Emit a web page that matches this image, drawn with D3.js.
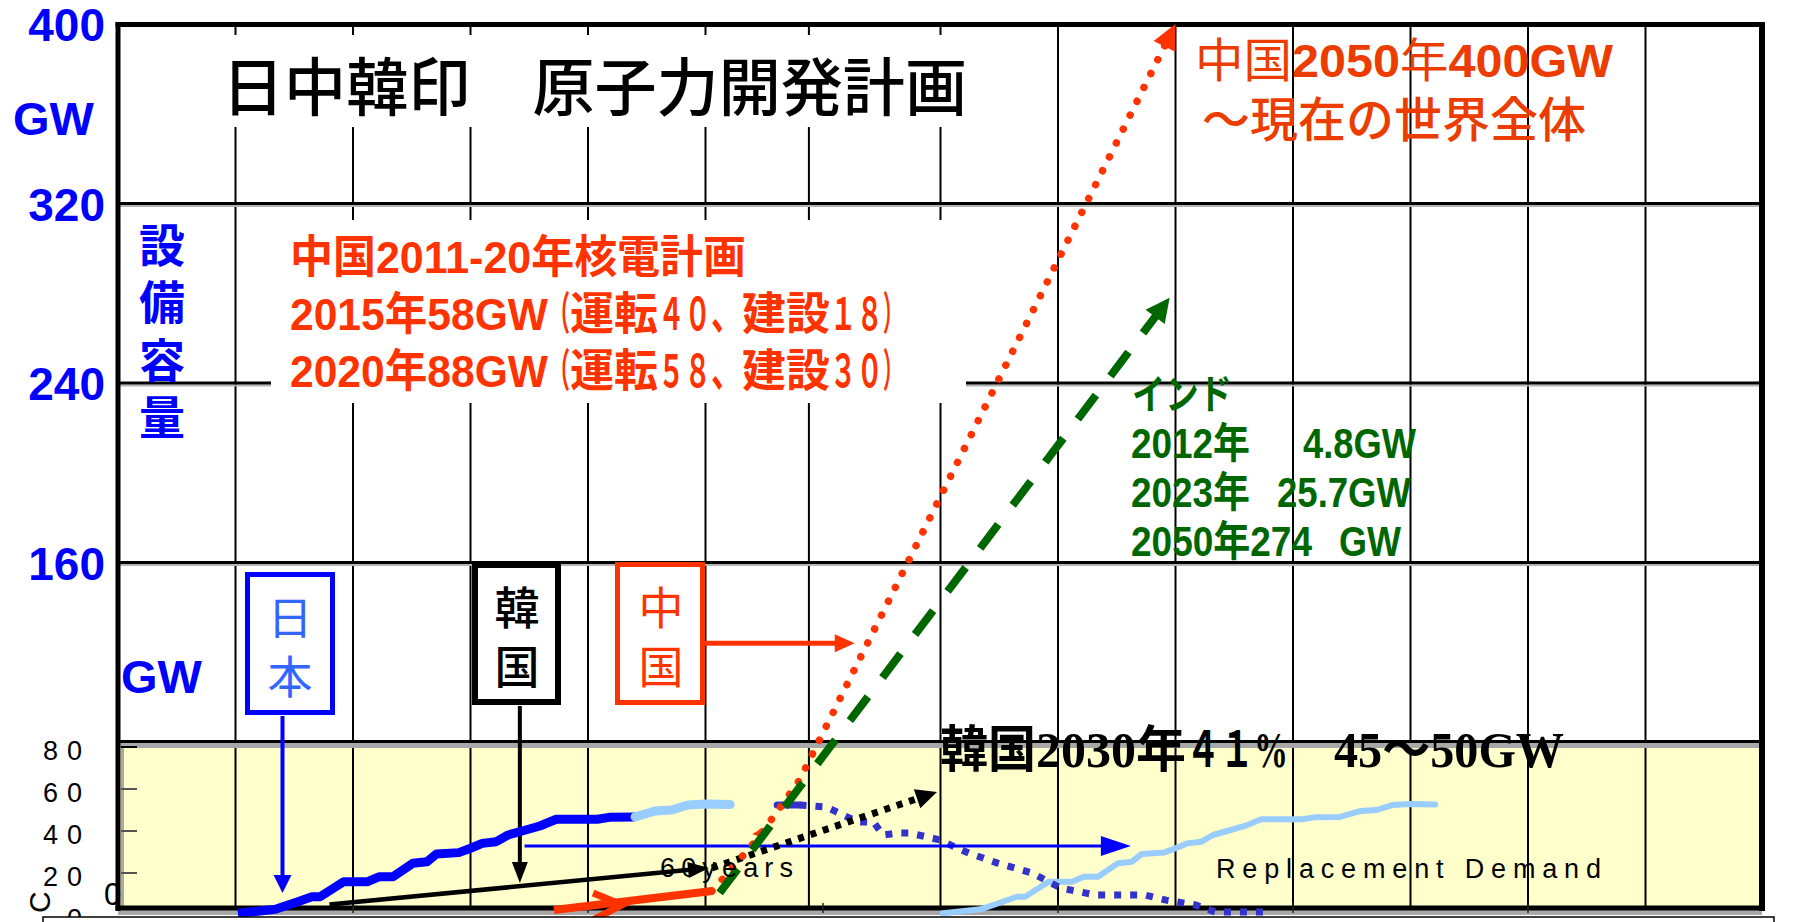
<!DOCTYPE html>
<html><head><meta charset="utf-8">
<script src="https://cdn.jsdelivr.net/npm/d3@7"></script>
<style>body{margin:0;background:#fff;}svg{display:block;}</style>
</head><body>
<svg id="chart" width="1808" height="922"></svg>
<script>
// ---------------- data ----------------
const gridYears = [1970,1980,1990,2000,2010,2018.8,2030,2040,2050,2060,2070,2080,2090];
const bottomTickYears = [1980,2000,2020,2040,2060,2080];
const upperTicks = [400,320,240,160];
const upperGridValues = [320,240,160];
const lowerTicks = [80,60,40,20,0];

// Japan installed capacity (GW)
const japanActual = [[1970.2,0.8],[1973.4,2.7],[1975.3,6.3],[1976.5,8.7],[1977.2,8.7],[1979.2,15.8],[1981.2,15.8],[1982.2,18.2],[1983.4,18.2],[1985.1,24.6],[1986.3,25.4],[1987.1,29.0],[1989.0,29.7],[1990.0,31.8],[1991.0,34.1],[1992.2,34.9],[1993.2,38.1],[1994.4,40.0],[1995.9,42.4],[1997.3,45.6],[2000.8,45.6],[2001.8,46.5],[2004.0,46.7]];
const japanRecent = [[2004.0,46.7],[2005.7,49.5],[2007.1,50.0],[2008.5,52.4],[2010.0,52.9],[2012.1,52.6]];
const japanDecline = [[2016.1,52.4],[2018.0,52.4],[2020.3,51.4],[2021.7,47.6],[2023.0,44.3],[2024.3,44.3],[2025.1,38.1],[2026.3,39.0],[2027.4,39.0],[2028.9,37.1],[2030.0,35.7],[2031.2,32.4],[2032.4,29.5],[2034.8,24.8],[2037.8,20.0],[2040.2,12.9],[2043.2,9.5],[2047.4,9.5],[2049.2,7.1],[2051.7,4.8],[2053.4,1.4],[2057.6,1.4]];
const replacement = [[2030.2,0.8],[2033.4,2.7],[2035.3,6.3],[2036.5,8.7],[2037.2,8.7],[2039.2,15.8],[2041.2,15.8],[2042.2,18.2],[2043.4,18.2],[2045.1,24.6],[2046.3,25.4],[2047.1,29.0],[2049.0,29.7],[2050.0,31.8],[2051.0,34.1],[2052.2,34.9],[2053.2,38.1],[2054.4,40.0],[2055.9,42.4],[2057.3,45.6],[2060.8,45.6],[2061.8,46.5],[2064.0,46.7],[2065.7,49.5],[2067.1,50.0],[2068.5,52.4],[2070.0,52.9],[2072.1,52.6]];
const chinaActual = [[1997.1,2.4],[2010.55,11.4]];
const chinaPlan = [[2010.55,11.4],[2012.5,23.8],[2013.96,33.3],[2015.9,47.6],[2018.0,64.3],[2050,400]];
const indiaPlan = [[2011.2,10.5],[2049.5,278]];
const koreaActual = [[1978.0,5.0],[2010.3,22.4]];
const koreaPlan = [[2010.55,22.4],[2029.7,58.6]];
const sixtyYears = [[1994.6,32.9],[2046.2,32.9]];

// ---------------- texts ----------------
const titleText = "日中韓印　原子力開発計画";
const yTitleChars = ["設","備","容","量"];
const chinaPlanLine1 = "中国2011-20年核電計画";
const chinaPlanLine2 = [["2015年58GW",258],["（",22],["運転",88],["４０",53],["、",31],["建設",88],["１８",53],["）",20]];
const chinaPlanLine3 = [["2020年88GW",258],["（",22],["運転",88],["５８",53],["、",31],["建設",88],["３０",53],["）",20]];
const china2050 = [["中国","normal"],["2050","bold"],["年","normal"],["400GW","bold"]];
const china2050b = "～現在の世界全体";
const indiaTitle = "インド";
const indiaRows = [["2012年","4.8GW"],["2023年","25.7GW"],["2050年274","GW"]];
const koreaText = [["韓国",96],["2030",100],["年",50],["４１%",102],[null,46],["45～50GW",230]];

// ---------------- scales ----------------
const L=118, R=1762, T=24, B=908;
const x = d3.scaleLinear().domain([1960,2100]).range([118,1763]);
const yUp = d3.scaleLinear().domain([80,400]).range([742,24]);
const yLow = d3.scaleLinear().domain([0,80]).range([915,747]);
const yv = v => v <= 80 ? yLow(v) : yUp(v);

const SANS = "'Liberation Sans','Noto Sans CJK JP',sans-serif";
const NARROW = "'Liberation Sans Narrow','Liberation Sans','Noto Sans CJK JP',sans-serif";
const CJK = "'Noto Sans CJK JP','Noto Sans CJK SC',sans-serif";
const SERIF = "'Liberation Serif','Noto Sans CJK JP',serif";

const svg = d3.select('#chart');
svg.append('rect').attr('width',1808).attr('height',922).attr('fill','#fff');

function txt(g, s, px, py, o){ const t=g.append('text').attr('x',px).attr('y',py).text(s); for(const k in o) t.attr(k,o[k]); return t; }
function segs(g, x0, py, list, o){ let xx=x0; list.forEach(([s,w])=>{ if(s){ const t=txt(g,s,xx,py,o); t.attr('textLength',w).attr('lengthAdjust','spacingAndGlyphs'); } xx+=w; }); }
function hline(g,x1,x2,yy,c,w){ g.append('line').attr('x1',x1).attr('x2',x2).attr('y1',yy).attr('y2',yy).attr('stroke',c).attr('stroke-width',w); }
function vline(g,xx,y1,y2,c,w){ g.append('line').attr('x1',xx).attr('x2',xx).attr('y1',y1).attr('y2',y2).attr('stroke',c).attr('stroke-width',w); }
function scr(data){ return data.map(d=>[x(d[0]), yv(d[1])]); }
function head(g,p0,p1,len,half,color){
  const dx=p1[0]-p0[0], dy=p1[1]-p0[1], d=Math.hypot(dx,dy), ux=dx/d, uy=dy/d;
  const bx=p1[0]-ux*len, by=p1[1]-uy*len;
  g.append('path').attr('d',`M${p1[0]},${p1[1]}L${bx-uy*half},${by+ux*half}L${bx+uy*half},${by-ux*half}Z`).attr('fill',color);
}
function trim(pts,cut){ const n=pts.length, p0=pts[n-2], p1=pts[n-1]; const dx=p1[0]-p0[0], dy=p1[1]-p0[1], d=Math.hypot(dx,dy); return pts.slice(0,-1).concat([[p1[0]-dx/d*cut, p1[1]-dy/d*cut]]); }
const lineGen = d3.line();

// ---------------- upper grid ----------------
const gGrid = svg.append('g');
gridYears.forEach(yr => vline(gGrid, x(yr), T, yUp(80), '#000', 2));
upperGridValues.forEach(v => { hline(gGrid, L, R, yUp(v)+2.6, '#b4b4b4', 2); hline(gGrid, L, R, yUp(v), '#000', 3); });

// white label backgrounds
svg.append('rect').attr('x',150).attr('y',35).attr('width',850).attr('height',92).attr('fill','#fff');
svg.append('rect').attr('x',271).attr('y',220).attr('width',695).attr('height',183).attr('fill','#fff');

// ---------------- lower panel ----------------
const gLow = svg.append('g');
gLow.append('rect').attr('x',L).attr('y',yUp(80)).attr('width',R-L).attr('height',B-yUp(80)).attr('fill','#FFFFCC');
gLow.append('rect').attr('x',L).attr('y',yUp(80)+1).attr('width',R-L).attr('height',5).attr('fill','#a8a8a8');
hline(gLow, L, R, yUp(80)-0.5, '#000', 3);
gLow.append('rect').attr('x',121).attr('y',yUp(80)+1).attr('width',3).attr('height',B-yUp(80)-1).attr('fill','#a8a8a8');
gridYears.forEach(yr => vline(gLow, x(yr), yUp(80)+6, B, '#000', 2));
lowerTicks.filter(v=>v>0).forEach(v => hline(gLow, 121, 137, yLow(v), v===80?'#000':'#555', 2));
gLow.append('rect').attr('x',L).attr('y',B+2).attr('width',R-L).attr('height',5).attr('fill','#a8a8a8');

// extra stray labels at lower-left
txt(svg, "0", 104, 905, {'font-family':SANS,'font-size':31,fill:'#000'});
svg.append('text').attr('transform',`translate(50,913) rotate(-90)`).text('C').attr('font-family',SANS).attr('font-size',30).attr('fill','#000');

// ---------------- frame ----------------
const gFrame = svg.append('g');
hline(gFrame, L-2.5, R+3, T+0.5, '#000', 5);
vline(gFrame, L, T-2, B+3, '#000', 5);
vline(gFrame, R, T-2, B+3, '#000', 6);
hline(gFrame, L-2.5, R+3, B, '#000', 5);
bottomTickYears.forEach(yr => vline(gFrame, x(yr), B-5, B+5, '#222', 1.5));

// ---------------- axis labels ----------------
const blueLab = {'font-family':SANS,'font-size':46,'font-weight':'bold',fill:'#0000FF'};
upperTicks.forEach(v => txt(svg, String(v), 105, yUp(v)+17, Object.assign({'text-anchor':'end'},blueLab)));
txt(svg, 'GW', 13, 135, Object.assign({},blueLab,{'font-size':47}));
txt(svg, 'GW', 121, 693, Object.assign({},blueLab,{'font-size':47}));
yTitleChars.forEach((c,i) => txt(svg, c, 162, 262+i*57.3, {'font-family':CJK,'font-size':46,'font-weight':'bold',fill:'#0000FF','text-anchor':'middle'}));
lowerTicks.forEach(v => { const t = txt(svg, String(v), 82, yLow(v)+13, {'font-family':NARROW,'font-size':27,fill:'#000','text-anchor':'end'}); if(v>=10) t.attr('textLength',39).attr('lengthAdjust','spacing'); });

// ---------------- title & annotations ----------------
txt(svg, titleText, 222, 110, {'font-family':CJK,'font-size':63,'font-weight':500,fill:'#000','textLength':745,'lengthAdjust':'spacingAndGlyphs'});

const red = '#FF3300';
const redStyle = {'font-family':NARROW,'font-size':45,'font-weight':'bold',fill:red};
txt(svg, chinaPlanLine1, 290, 273, Object.assign({'textLength':456,'lengthAdjust':'spacingAndGlyphs'},redStyle));
segs(svg, 290, 330, chinaPlanLine2, redStyle);
segs(svg, 290, 387, chinaPlanLine3, redStyle);

const orange = '#EC3C00';
const t2050 = svg.append('text').attr('x',1195).attr('y',77).attr('font-family',SANS).attr('font-size',47).attr('fill',orange).attr('textLength',418).attr('lengthAdjust','spacingAndGlyphs');
china2050.forEach(([s,w]) => t2050.append('tspan').text(s).attr('font-weight',w));
txt(svg, china2050b, 1202, 137, {'font-family':CJK,'font-size':48,'font-weight':500,fill:orange,'textLength':384,'lengthAdjust':'spacingAndGlyphs'});

const green = '#006600';
const greenStyle = {'font-family':NARROW,'font-size':42,'font-weight':'bold',fill:green};
txt(svg, indiaTitle, 1132, 409, Object.assign({'textLength':100,'lengthAdjust':'spacingAndGlyphs'},greenStyle,{'font-family':CJK,'font-size':41}));
const rowBase=[458,507,556], rowW1=[119,119,181], rowX2=[1303,1277,1339], rowW2=[113,134,62];
indiaRows.forEach((r,i) => {
  txt(svg, r[0], 1131, rowBase[i], Object.assign({'textLength':rowW1[i],'lengthAdjust':'spacingAndGlyphs'},greenStyle));
  txt(svg, r[1], rowX2[i], rowBase[i], Object.assign({'textLength':rowW2[i],'lengthAdjust':'spacingAndGlyphs'},greenStyle));
});

segs(svg, 940, 767, koreaText, {'font-family':SERIF,'font-size':50,'font-weight':'bold',fill:'#000'});

// country boxes
const gBox = svg.append('g');
gBox.append('rect').attr('x',247.5).attr('y',574.5).attr('width',85).attr('height',138).attr('fill','#fff').attr('stroke','#0000FF').attr('stroke-width',5);
gBox.append('rect').attr('x',475).attr('y',565).attr('width',83).attr('height',137).attr('fill','#fff').attr('stroke','#000').attr('stroke-width',6);
gBox.append('rect').attr('x',617.5).attr('y',564.5).attr('width',85).attr('height',138).attr('fill','#fff').attr('stroke',red).attr('stroke-width',5);
txt(gBox,'日',290,635,{'font-family':CJK,'font-size':45,fill:'#3366FF','text-anchor':'middle'});
txt(gBox,'本',290,694,{'font-family':CJK,'font-size':45,fill:'#3366FF','text-anchor':'middle'});
txt(gBox,'韓',517,625,{'font-family':CJK,'font-size':45,'font-weight':500,fill:'#000','text-anchor':'middle'});
txt(gBox,'国',517,684,{'font-family':CJK,'font-size':45,'font-weight':500,fill:'#000','text-anchor':'middle'});
txt(gBox,'中',661,625,{'font-family':CJK,'font-size':45,fill:red,'text-anchor':'middle'});
txt(gBox,'国',661,684,{'font-family':CJK,'font-size':45,fill:red,'text-anchor':'middle'});

// box pointer arrows
const gPtr = svg.append('g');
{ const p0=[x(1974),716], p1=[x(1974),yLow(10.5)]; vline(gPtr,p0[0],p0[1],p1[1]-14,'#0000FF',4); head(gPtr,p0,p1,18,9,'#0000FF'); }
{ const p0=[x(1994.2),706], p1=[x(1994.2),yLow(15.2)]; vline(gPtr,p0[0],p0[1],p1[1]-14,'#000',4); head(gPtr,p0,p1,21,8,'#000'); }
{ const p0=[704,yUp(124)], p1=[x(2022.7),yUp(124)]; hline(gPtr,p0[0],p1[0]-14,p0[1],red,5); head(gPtr,p0,p1,20,9,red); }

// ---------------- data lines ----------------
const gData = svg.append('g').attr('fill','none');
// replacement demand (light blue)
gData.append('path').attr('d',lineGen(scr(replacement))).attr('stroke','#99CCFF').attr('stroke-width',6).attr('stroke-linejoin','round').attr('stroke-linecap','round');
// japan decline (dark blue dotted)
gData.append('path').attr('d',lineGen(scr(japanDecline.slice(0,2)))).attr('stroke','#3333CC').attr('stroke-width',7).attr('stroke-linecap','round');
gData.append('path').attr('d',lineGen(scr(japanDecline.slice(1)))).attr('stroke','#3333CC').attr('stroke-width',7).attr('stroke-dasharray','7,9');
// japan actual
gData.append('path').attr('d',lineGen(scr(japanActual))).attr('stroke','#0000FF').attr('stroke-width',9).attr('stroke-linejoin','round');
gData.append('path').attr('d',lineGen(scr(japanRecent))).attr('stroke','#99CCFF').attr('stroke-width',9).attr('stroke-linejoin','round').attr('stroke-linecap','round');
// 60 years arrow
{ const p=scr(sixtyYears); gData.append('path').attr('d',lineGen(trim(p,20))).attr('stroke','#0000FF').attr('stroke-width',3); head(gData,p[0],p[1],30,10,'#0000FF'); }
// korea actual
{ const p=scr(koreaActual); gData.append('path').attr('d',lineGen(trim(p,14))).attr('stroke','#000').attr('stroke-width',4.5); head(gData,p[0],p[1],21,8,'#000'); }
// china actual thick red + chevron
{ const p=scr(chinaActual); gData.append('path').attr('d',lineGen(p)).attr('stroke',red).attr('stroke-width',8);
  const vx=x(2002.9), vy=yLow(4.8);
  gData.append('path').attr('d',`M${vx-29},${vy-12}L${vx},${vy}L${vx-29},${vy+15}`).attr('stroke',red).attr('stroke-width',7); }
// korea plan dotted
{ const p=scr(koreaPlan); gData.append('path').attr('d',lineGen(trim(p,14))).attr('stroke','#000').attr('stroke-width',7).attr('stroke-dasharray','6,7'); head(gData,p[0],p[1],21,10,'#000'); }
// china plan dotted
{ const p=scr(chinaPlan); gData.append('path').attr('d',lineGen(trim(p,16))).attr('stroke',red).attr('stroke-width',7.5).attr('stroke-dasharray','0.01,15.5').attr('stroke-linecap','round'); head(gData,p[p.length-2],p[p.length-1],25,12,red);
  const a=[x(2013.98),yLow(38.6)], b=[x(2014.9),yLow(41.4)], c=[x(2014.9),yLow(36.7)];
  gData.append('path').attr('d',`M${a}L${b}L${c}Z`).attr('fill',red); }
// india plan dashed
{ const p=scr(indiaPlan); gData.append('path').attr('d',lineGen(trim(p,14))).attr('stroke',green).attr('stroke-width',8).attr('stroke-dasharray','30,24'); head(gData,p[0],p[1],24,12,green); }

// letter-spaced labels
txt(svg,'60years',660,877,{'font-family':NARROW,'font-size':27,fill:'#000','textLength':133,'lengthAdjust':'spacing'});
txt(svg,'Replacement Demand',1216,878,{'font-family':NARROW,'font-size':27,fill:'#000','textLength':385,'lengthAdjust':'spacing'});

// bottom overlapping white box
svg.append('rect').attr('x',43).attr('y',917).attr('width',1731).attr('height',30).attr('fill','#fff').attr('stroke','#000').attr('stroke-width',1.5);
</script>
</body></html>
